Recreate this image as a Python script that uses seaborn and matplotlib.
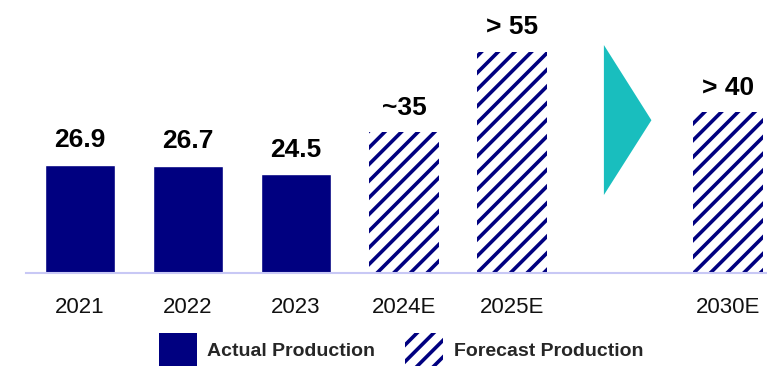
import matplotlib
matplotlib.use("Agg")
import matplotlib.pyplot as plt
from matplotlib.patches import Patch, Polygon
import seaborn as sns
import pandas as pd

years = ["2021", "2022", "2023", "2024E", "2025E", "2030E"]
production = [26.9, 26.7, 24.5, 35, 55, 40]
value_labels = ["26.9", "26.7", "24.5", "~35", "> 55", "> 40"]
is_forecast = [False, False, False, True, True, True]
slot_order = ["2021", "2022", "2023", "2024E", "2025E", " ", "2030E"]

NAVY = "#000080"
TEAL = "#19BEBE"
AXIS = "#C8C8F5"

sns.set_theme(style="white")
plt.rcParams["font.family"] = ["Liberation Sans", "DejaVu Sans"]
plt.rcParams["hatch.linewidth"] = 2.6

df = pd.DataFrame({"year": years, "value": production})

fig = plt.figure(figsize=(7.67, 3.66), dpi=100)
ax = fig.add_axes([26 / 767, 93 / 366, 1 - 26 / 767, 1 - 93 / 366])

sns.barplot(data=df, x="year", y="value", order=slot_order, color=NAVY,
            width=0.65, saturation=1, ax=ax)

bars = [p for p in ax.patches]
for bar, fc, lbl in zip(bars, is_forecast, value_labels):
    if fc:
        bar.set_facecolor("white")
        bar.set_edgecolor(NAVY)
        bar.set_hatch("//")
        bar.set_linewidth(0)
    ax.annotate(lbl, (bar.get_x() + bar.get_width() / 2, bar.get_height()),
                xytext=(0, 9), textcoords="offset points", ha="center",
                va="bottom", fontsize=19, fontweight="bold", color="black")

# chevron separating the near-term years from 2030
ax.add_patch(Polygon([(4.85, 56.7), (4.85, 19.4), (5.29, 38.0)],
                     closed=True, facecolor=TEAL, edgecolor="none"))

ax.set_xlim(-0.5, 6.36)
ax.set_ylim(0, 67.9)
ax.set_xlabel("")
ax.set_ylabel("")
ax.set_yticks([])
for side in ["top", "right", "left"]:
    ax.spines[side].set_visible(False)
ax.spines["bottom"].set_color(AXIS)
ax.spines["bottom"].set_linewidth(1.5)
ax.tick_params(axis="x", length=0, pad=17, labelsize=16, colors="#111111")

handles = [
    Patch(facecolor=NAVY, edgecolor=NAVY, linewidth=0, label="Actual Production"),
    Patch(facecolor="white", edgecolor=NAVY, hatch="//", linewidth=0,
          label="Forecast Production"),
]
leg = fig.legend(handles=handles, loc="lower center", bbox_to_anchor=(0.523, -0.028),
                 ncol=2, frameon=False, handlelength=1.95, handleheight=2.3,
                 handletextpad=0.55, columnspacing=1.55, borderpad=0,
                 prop={"size": 14, "weight": "bold"})

fig.savefig("out.png", dpi=100)
